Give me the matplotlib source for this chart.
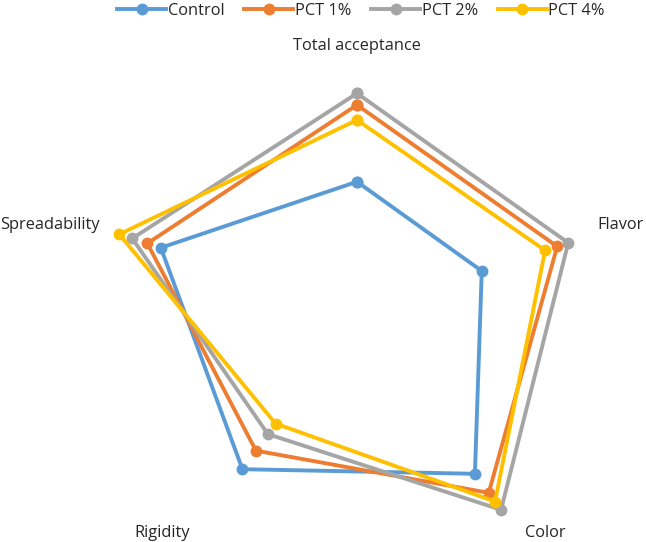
import numpy as np
import matplotlib
matplotlib.use("Agg")
import matplotlib.pyplot as plt

plt.rcParams['font.family'] = ['Open Sans', 'DejaVu Sans']

categories = ["Total acceptance", "Flavor", "Color", "Rigidity", "Spreadability"]
series_names = ["Control", "PCT 1%", "PCT 2%", "PCT 4%"]
control = [4.58, 4.63, 7.08, 6.88, 7.28]
pct1 = [7.29, 7.43, 7.91, 6.07, 7.78]
pct2 = [7.70, 7.84, 8.65, 5.35, 8.34]
pct4 = [6.76, 6.98, 8.29, 4.89, 8.82]
colors = ["#5B9BD5", "#ED7D31", "#A5A5A5", "#FFC000"]
rmax = 9.0

W, H = 646, 542
fig = plt.figure(figsize=(W / 100, H / 100), dpi=100)
cx, cy, R = 357, 311.5, 255
ax = fig.add_axes([(cx - R) / W, (H - cy - R) / H, 2 * R / W, 2 * R / H], projection='polar')
ax.set_theta_direction(-1)
ax.set_theta_offset(np.pi / 2)
n = len(categories)
angles = np.arange(n) * 2 * np.pi / n
ax.set_ylim(0, rmax)
ax.set_xticks([])
ax.set_yticks([])
ax.grid(False)
ax.spines['polar'].set_visible(False)
ax.patch.set_alpha(0)

for name, vals, c in zip(series_names, [control, pct1, pct2, pct4], colors):
    a = np.append(angles, angles[0])
    v = np.append(vals, vals[0])
    ax.plot(a, v, color=c, lw=2.8, marker='o', markersize=7.5, label=name,
            clip_on=False, solid_joinstyle='round')

px = rmax / R
fs = 11.8
tc = '#262626'
# label placements (angle measured clockwise from top, radius in pixels)
label_specs = [
    (0.0, 265.5, 'center', 'center'),
    (70.2, 255, 'left', 'center'),
    (139.7, 290.5, 'center', 'center'),
    (221.3, 294.8, 'center', 'center'),
    (288.6, 271, 'right', 'center'),
]
for cat, (deg, rr, ha, va) in zip(categories, label_specs):
    ax.text(np.deg2rad(deg), rr * px, cat, ha=ha, va=va, fontsize=fs, color=tc)

fig.legend(loc='center', bbox_to_anchor=(361 / W, 1 - 11 / H), ncol=4, frameon=False,
           handlelength=3.0, handletextpad=0.1, columnspacing=1.2, fontsize=fs,
           labelcolor=tc)

fig.savefig("out.png", dpi=100)
